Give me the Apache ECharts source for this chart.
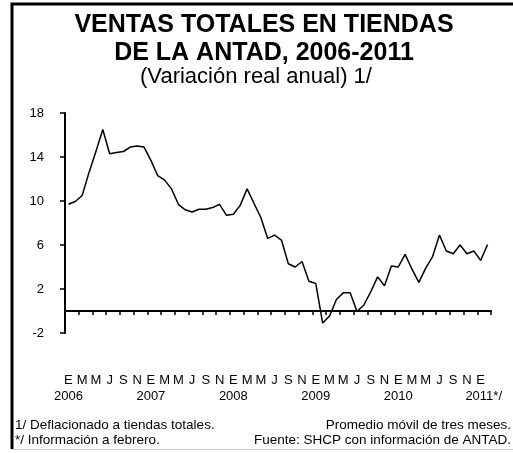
<!DOCTYPE html>
<html>
<head>
<meta charset="utf-8">
<title>Ventas ANTAD</title>
<script src="https://cdn.jsdelivr.net/npm/echarts/dist/echarts.min.js"></script>
<style>
  html, body { margin: 0; padding: 0; background: #fff; }
  #main { width: 513px; height: 453px; }
</style>
</head>
<body>
<div id="main"></div>
<script>
// letras de los meses y etiquetas de año
const mesesLetra = ['E', 'F', 'M', 'A', 'M', 'J', 'J', 'A', 'S', 'O', 'N', 'D'];
const anios = ['2006', '2007', '2008', '2009', '2010', '2011*/'];
const yTicks = { min: -2, max: 18, interval: 4 };

// variación real anual, ene-2006 a feb-2011
const ventas2006 = [9.7, 9.95, 10.5, 12.6, 14.5, 16.5, 14.3, 14.4, 14.5, 14.9, 15.0, 14.9];
const ventas2007 = [13.7, 12.3, 11.9, 11.1, 9.7, 9.2, 9.0, 9.25, 9.25, 9.4, 9.7, 8.7];
const ventas2008 = [8.8, 9.6, 11.1, 9.8, 8.5, 6.6, 6.9, 6.45, 4.3, 4.0, 4.5, 2.7];
const ventas2009 = [2.5, -1.1, -0.45, 1.05, 1.65, 1.65, -0.05, 0.55, 1.75, 3.1, 2.3, 4.1];
const ventas2010 = [4.0, 5.15, 3.8, 2.6, 3.9, 4.95, 6.9, 5.45, 5.2, 6.0, 5.2, 5.45];
const ventas2011 = [4.6, 6.05];

const valores = [].concat(ventas2006, ventas2007, ventas2008, ventas2009, ventas2010, ventas2011);

// categorías mensuales
let categorias = [];
for (let i = 0; i < valores.length; i++) {
  categorias.push(anios[Math.floor(i / 12)].slice(0, 4) + '-' + (i % 12 + 1));
}

let myChart = echarts.init(document.getElementById('main'));
const fuente = '"Liberation Sans", Arial, sans-serif';

// eje solo para etiquetas (sin línea ni marcas)
function ejeEtiquetas(margen, mostrar, formatter, rich) {
  return {
    type: 'category',
    data: categorias,
    position: 'bottom',
    boundaryGap: true,
    axisLine: { show: false, onZero: false },
    axisTick: { show: false },
    splitLine: { show: false },
    axisLabel: {
      interval: mostrar,
      hideOverlap: false,
      margin: margen,
      color: '#000',
      fontFamily: fuente,
      fontSize: 13,
      formatter: formatter,
      rich: rich
    }
  };
}

let option = {
  animation: false,
  backgroundColor: '#fff',
  grid: {
    left: 65,
    right: 22,
    top: 113,
    bottom: 120,
    containLabel: false
  },
  graphic: [
    // marco
    {
      type: 'polyline',
      shape: { points: [[12, 449], [12, 4], [513, 4]] },
      style: { stroke: '#000', lineWidth: 3, fill: null }
    },
    {
      type: 'line',
      shape: { x1: 12, y1: 449.5, x2: 513, y2: 449.5 },
      style: { stroke: '#c8c8c8', lineWidth: 1 }
    },
    // títulos
    {
      type: 'text', x: 264, y: 25,
      style: { text: 'VENTAS TOTALES EN TIENDAS', font: 'bold 25px ' + fuente, fill: '#000', align: 'center', verticalAlign: 'middle' }
    },
    {
      type: 'text', x: 264, y: 53,
      style: { text: 'DE LA ANTAD, 2006-2011', font: 'bold 25px ' + fuente, fill: '#000', align: 'center', verticalAlign: 'middle' }
    },
    {
      type: 'text', x: 256, y: 77,
      style: { text: '(Variación real anual) 1/', font: '22px ' + fuente, fill: '#000', align: 'center', verticalAlign: 'middle' }
    },
    // notas
    {
      type: 'text', x: 15, y: 425,
      style: { text: '1/ Deflacionado a tiendas totales.', font: '13.5px ' + fuente, fill: '#000', align: 'left', verticalAlign: 'middle' }
    },
    {
      type: 'text', x: 511, y: 425,
      style: { text: 'Promedio móvil de tres meses.', font: '13.5px ' + fuente, fill: '#000', align: 'right', verticalAlign: 'middle' }
    },
    {
      type: 'text', x: 15, y: 440,
      style: { text: '*/ Información a febrero.', font: '13.5px ' + fuente, fill: '#000', align: 'left', verticalAlign: 'middle' }
    },
    {
      type: 'text', x: 511, y: 440,
      style: { text: 'Fuente: SHCP con información de ANTAD.', font: '13.5px ' + fuente, fill: '#000', align: 'right', verticalAlign: 'middle' }
    }
  ],
  xAxis: [
    {
      // eje en cero con marcas
      type: 'category',
      data: categorias,
      boundaryGap: true,
      axisLine: { onZero: true, lineStyle: { color: '#000', width: 2 } },
      axisTick: { show: true, interval: 1, length: 4, lineStyle: { color: '#000', width: 1.5 } },
      axisLabel: { show: false },
      splitLine: { show: false }
    },
    // letras de los meses
    ejeEtiquetas(41,
      function (index) { return index % 2 === 0; },
      function (value, index) { return index % 2 === 0 ? mesesLetra[index % 12] : ''; }
    ),
    // años
    ejeEtiquetas(57,
      function (index) { return index % 12 === 0; },
      function (value, index) {
        if (index % 12 !== 0) return '';
        let a = anios[index / 12];
        return a.length > 4 ? '{b|' + a + '}' : a;
      },
      { b: { fontFamily: fuente, fontSize: 13, color: '#000', padding: [0, 0, 0, 6] } }
    )
  ],
  yAxis: {
    type: 'value',
    min: yTicks.min,
    max: yTicks.max,
    interval: yTicks.interval,
    axisLine: { show: true, lineStyle: { color: '#000', width: 2 } },
    axisTick: { show: true, length: 5, lineStyle: { color: '#000', width: 1.5 } },
    splitLine: { show: false },
    axisLabel: { margin: 21, color: '#000', fontFamily: fuente, fontSize: 13 }
  },
  series: [
    {
      type: 'line',
      xAxisIndex: 0,
      data: valores,
      symbol: 'none',
      lineStyle: { color: '#000', width: 1.5 },
      itemStyle: { color: '#000' }
    }
  ]
};

myChart.setOption(option);
</script>
</body>
</html>
